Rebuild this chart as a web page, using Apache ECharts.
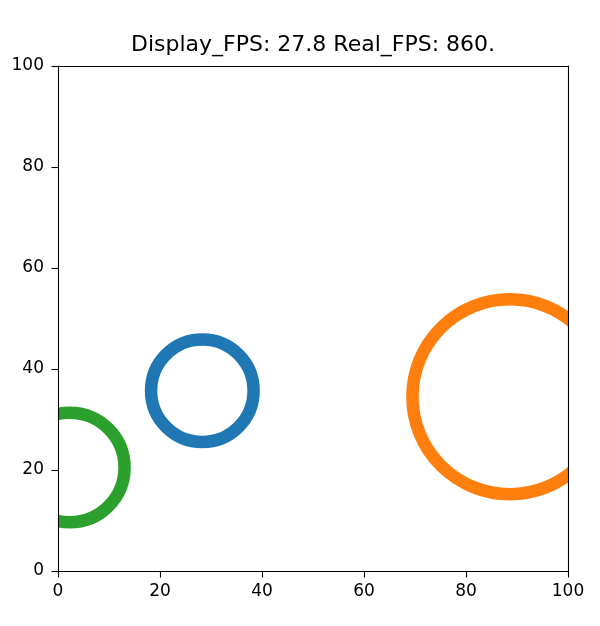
<!DOCTYPE html>
<html><head><meta charset="utf-8">
<script src="https://cdn.jsdelivr.net/npm/echarts@6/dist/echarts.min.js"></script>
<style>html,body{margin:0;padding:0;background:#fff}#c{width:600px;height:626px}</style>
</head><body><div id="c"></div>
<script>
const titleText = 'Display_FPS: 27.8 Real_FPS: 860.';
const xTicks = [0, 20, 40, 60, 80, 100];
const yTicks = [0, 20, 40, 60, 80, 100];
const circleNames = ['blue', 'orange', 'green'];
const centersX = [28.3, 88.6, 2.3];
const centersY = [35.7, 34.5, 20.5];
const radii = [10.1, 19.2, 10.8];
const colors = ['#1f77b4', '#ff7f0e', '#2ca02c'];

const FONT = 'DejaVu Sans';
const chart = echarts.init(document.getElementById('c'), null, {renderer: 'canvas'});

function baseAxis(pos, showLabels, ticks, margin) {
  return {
    type: 'value', position: pos, min: ticks[0], max: ticks[ticks.length - 1],
    interval: ticks[1] - ticks[0], z: 5,
    axisLine: {show: true, onZero: false, lineStyle: {color: '#000', width: 1.1}},
    axisTick: {show: showLabels, inside: false, length: 6.5, lineStyle: {color: '#000', width: 1.1}},
    axisLabel: {show: showLabels, color: '#000', fontFamily: FONT, fontSize: 17, margin: margin},
    splitLine: {show: false}
  };
}

const seriesList = circleNames.map((name, i) => ({
  type: 'custom', name: name, z: 2, clip: true,
  xAxisIndex: 0, yAxisIndex: 0,
  data: [[centersX[i], centersY[i], radii[i]]],
  encode: {x: 0, y: 1},
  renderItem: function (params, api) {
    const c = api.coord([api.value(0), api.value(1)]);
    const s = api.size([api.value(2), api.value(2)]);
    const cs = params.coordSys;
    return {
      type: 'circle',
      shape: {cx: c[0], cy: c[1], r: (s[0] + s[1]) / 2},
      style: {fill: 'none', stroke: colors[i], lineWidth: 12.5},
      clipPath: {type: 'rect', shape: {x: cs.x, y: cs.y, width: cs.width, height: cs.height}}
    };
  }
}));

chart.setOption({
  animation: false,
  backgroundColor: '#fff',
  title: {text: titleText, left: 313, top: 34, textAlign: 'center', padding: 0,
    textStyle: {fontFamily: FONT, fontSize: 22, fontWeight: 'normal', color: '#000'}},
  grid: {left: 58, top: 66, width: 510, height: 505, outerBoundsMode: 'none', containLabel: false},
  xAxis: [baseAxis('bottom', true, xTicks, 12), baseAxis('top', false, xTicks, 12)],
  yAxis: [baseAxis('left', true, yTicks, 14), baseAxis('right', false, yTicks, 14)],
  series: seriesList
});
</script></body></html>
